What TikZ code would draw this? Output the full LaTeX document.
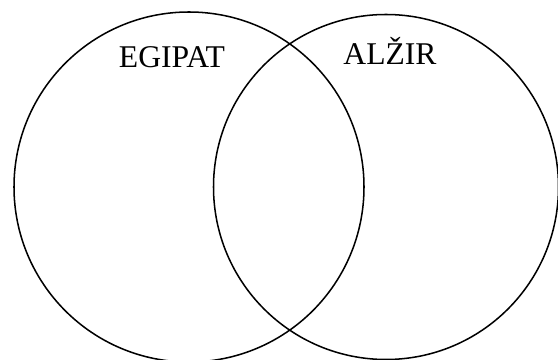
\documentclass[tikz,border=0pt]{standalone}
\usepackage{fontspec}
\setmainfont{Liberation Serif}
\usepackage{tikz}
\usetikzlibrary{positioning}

\begin{document}
\begin{tikzpicture}[
    skup/.style={draw, circle, inner sep=0pt, line width=1.3pt, minimum size=#1},
    naziv/.style={font=\fontsize{27}{30}\selectfont, anchor=base, inner sep=0pt},
]
    \useasboundingbox (0, 0) rectangle (16.74, 10.8);

    % === skupovi ===
    \node[skup=10.5cm] (egipatSkup) at (5.67, 5.19) {};
    \node[skup=10.35cm] (alzirSkup) at (11.58, 5.19) {};

    % === nazivi ===
    \node[naziv] (egipat) at (5.16, 8.76) {EGIPAT};
    \node[naziv] (alzir) at (11.7, 8.85) {ALŽIR};
\end{tikzpicture}
\end{document}
